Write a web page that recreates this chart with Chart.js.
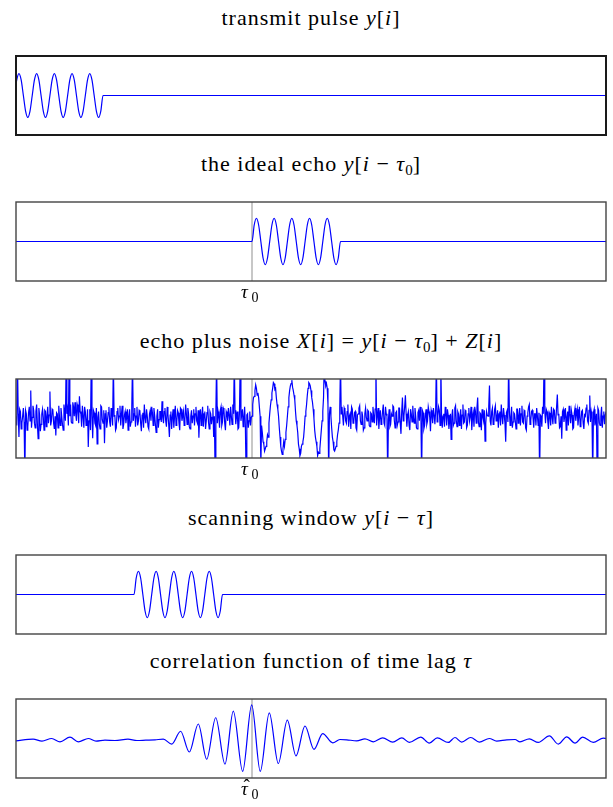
<!DOCTYPE html>
<html>
<head>
<meta charset="utf-8">
<script src="https://cdn.jsdelivr.net/npm/chart.js@4.4.1/dist/chart.umd.min.js"></script>
<style>
  body { margin: 0; background: #fff; width: 613px; height: 807px; position: relative; overflow: hidden; font-family: "Liberation Serif", "DejaVu Serif", serif; }
  .ttl { position: absolute; left: 16px; width: 590px; text-align: center; font-size: 22px; line-height: 22px; letter-spacing: 1px; color: #000; white-space: nowrap; }
  .ttl sub { font-size: 15px; vertical-align: -4px; line-height: 0; letter-spacing: 0; }
  canvas { position: absolute; left: 0; }
</style>
</head>
<body>
<div class="ttl" style="top:7px">transmit pulse <i>y</i>[<i>i</i>]</div>
<div class="ttl" style="top:153px">the ideal echo <i>y</i>[<i>i</i> − <i>τ</i><sub>0</sub>]</div>
<div class="ttl" style="top:330px;left:26px">echo plus noise <i>X</i>[<i>i</i>] = <i>y</i>[<i>i</i> − <i>τ</i><sub>0</sub>] + <i>Z</i>[<i>i</i>]</div>
<div class="ttl" style="top:507px">scanning window <i>y</i>[<i>i</i> − <i>τ</i>]</div>
<div class="ttl" style="top:650px">correlation function of time lag <i>τ</i></div>

<canvas id="c1" width="613" height="87" style="top:51.5px"></canvas>
<canvas id="c2" width="613" height="117" style="top:198px"></canvas>
<canvas id="c3" width="613" height="117" style="top:374.5px"></canvas>
<canvas id="c4" width="613" height="87" style="top:551px"></canvas>
<canvas id="c5" width="613" height="117" style="top:695px"></canvas>

<script>
// sample axis: 1000 samples across every box
const nSamples = 1000;
const tau0 = 400;          // true echo delay
const tauScan = 200;       // where the scanning window sits
const txStart = -2.5;      // transmit pulse, slightly cut at the left edge

// one pulse: 5 cycles, values every 3.75 samples (period 30)
const pulseStep = 3.75;
const pulseY = [0, 0.71, 1, 0.71, 0, -0.71, -1, -0.71,
                0, 0.71, 1, 0.71, 0, -0.71, -1, -0.71,
                0, 0.71, 1, 0.71, 0, -0.71, -1, -0.71,
                0, 0.71, 1, 0.71, 0, -0.71, -1, -0.71,
                0, 0.71, 1, 0.71, 0, -0.71, -1, -0.71,
                0];

// received signal X[i], one value every 1.25 samples
const noiseStep = 1.25;
const noisyY = [
  0.1, -0.3, 2.5, 0.2, -0.8, 0.4, 0.3, -0.45, -0.2, 0.1, 0.45, -0.15, -2.5, 0.35, 0.2, -0.5, -0.35, 0.25, 0.5, -0.1,
  1.2, -0.4, 0.05, 0.55, 0.35, -0.2, -0.4, 0.3, 0.6, -0.25, -0.87, 0.45, 0.15, -0.55, -0.25, 0.2, 0.4, 0.05, -0.5, 0.35,
  0.3, -0.35, 0.1, 0.5, -0.2, 0.15, 1.16, -0.3, -0.1, 0.4, 0.35, -0.2, -0.45, 0.1, -0.73, 0.25, 0.2, -0.4, 0.55, 0.05,
  -0.3, 0.45, 0.1, -0.25, -0.5, 0.6, 0.3, -0.1, 2.5, 0.2, 0.4, -0.3, 2.5, 0.1, 0.6, -0.15, -0.2, 0.7, 0.5, 0.1,
  0.7, 0.2, -0.1, 0.6, 0.45, -0.2, 0.96, 0.3, 0.2, -0.35, 0.55, 0.1, -0.4, 0.5, 0.3, -0.3, -0.15, 0.4, -1.23, -0.1,
  0.4, -0.5, 2.5, 0.15, -0.85, 0.35, 0.25, -0.2, -0.3, 0.45, -1.09, 0.05, 0.3, -0.25, -0.45, 0.55, 0.5, -0.05, -0.2, 0.35,
  -1.06, 0.2, 0.35, -0.4, -0.1, 0.25, 0.5, -0.15, -0.35, 0.45, 0.2, -0.3, 2.5, 0.1, 0.15, -0.5, -0.4, 0.3, 0.45, -0.05,
  0.1, 0.55, -0.3, 0.2, 0.55, -0.45, -0.25, 0.15, 0.3, -0.2, 0.05, 0.4, -0.5, 0.1, 0.4, -0.35, -0.15, 0.5, 2.5, -0.1,
  0.2, 0.45, -0.35, 0.1, 0.5, -0.3, -0.1, 0.35, 0.3, -0.2, -0.55, 0.15, 0.25, -0.4, 0.6, 0.05, -0.2, 0.4, 0.1, -0.35,
  -0.45, 0.2, 0.35, -0.1, 0.5, 0.25, -0.3, 0.45, 0.15, -0.25, -0.6, 0.1, 0.4, -0.4, -0.05, 0.3, 0.3, -0.15, 0.74, 0.05,
  -0.2, 0.3, 0.45, -0.1, -0.35, 0.5, 0.2, -0.25, -0.8, 0.15, 0.3, -0.45, 0.05, 0.4, -0.4, 0.1, 0.55, -0.3, -0.15, 0.35,
  0.25, -0.2, -0.5, 0.45, 0.4, -0.1, 0.1, 0.3, -0.3, -0.05, 0.6, 0.2, -0.25, 0.45, 0.2, -0.35, -0.45, 0.1, 0.35, -0.2,
  0.1, 0.4, -0.3, 0.2, 0.5, -0.1, -0.2, 0.35, -0.83, 0.05, 0.4, -0.3, 0.15, 0.5, -0.35, 0.2, 0.3, -0.45, -0.1, 0.25,
  0.55, -0.15, -0.45, 0.3, 0.2, -0.25, 0.05, 0.45, -0.8, 0.1, -2.5, 0.3, 2.5, -0.2, 0.3, 0.1, -0.4, 0.35, 0.5, -0.3,
  -0.15, 0.45, 0.35, -0.2, -0.5, 0.3, 0.2, -0.1, 0.45, 0.15, -0.3, 0.5, 0.1, -0.25, 0.6, 0.2, 2.5, 0.35, -0.25, 0.1,
  0.3, -0.45, -0.4, 0.25, 2.5, -0.1, 0.15, 0.4, -0.35, 0.05, 0.5, -0.3, -2.5, 0.15, 0.2, -0.4, -0.1, 0.3, -0.3, 0.05,
  // echo arrives at sample 400
  0.1, 0.6, 0.9, 0.95, 1.2, 1.45, 1.3, 1.0, 1.1, 0.9, 0.5, 0.1, -2.0, -0.3, -0.6, -1.0, -1.1, -1.4, -1.3, -1.2, -1.0, -0.7, -0.8, -0.2,
  0.2, 0.55, 0.8, 1.1, 1.3, 1.55, 1.5, 1.25, 1.3, 0.9, 0.6, 0.4, 0.1, -0.4, -0.8, -1.2, -1.4, -1.55, -1.3, -1.0, -1.2, -0.9, -0.6, -0.3,
  0.1, 0.5, 0.9, 1.2, 1.4, 1.5, 1.65, 1.35, 1.2, 1.0, 0.8, 0.3, -0.1, -0.3, -0.6, -1.1, -1.3, -1.6, -1.5, -1.2, -1.1, -1.0, -0.8, -0.4,
  0.1, 0.3, 0.6, 1.0, 1.3, 1.55, 1.5, 1.4, 1.2, 0.9, 0.7, 0.4, 0.0, -0.5, -0.8, -1.0, -1.2, -1.6, -1.45, -1.5, -1.3, -0.9, -0.5, -0.1,
  0.3, 0.9, 2.5, 1.6, 1.4, 1.5, 1.3, 0.6, -2.5, 0.2, 0.5, 0.1, -0.4, -0.8, -1.0, -1.35, -1.4, -1.3, -1.2, -1.0, -0.7, -0.5, -0.2, 0.4,
  2.5, 0.2,
  // back to noise only
  0.5, 0.1, -0.3, 0.45, 0.35, -0.1, -0.2, 0.3, 0.6, -0.35, 0.1, 0.2, -0.45, 0.5, 0.4, -0.2, -0.15, 0.25, 0.3, -0.4,
  -0.5, 0.15, 0.2, 0.45, 0.55, -0.1, -0.25, 0.3, 0.1, -0.5, -0.4, 0.2, 0.45, 0.05, -0.1, 0.35, 0.3, -0.3,
  -0.35, 0.25, 0.2, -0.15, 0.5, 0.1, -0.2, 0.4, 2.5, -0.3, 0.15, 0.45, -0.45, 0.05, 0.35, -0.25, -0.1, 0.3, 0.6, -0.2,
  -0.3, 0.5, 0.2, 0.1, -2.5, -0.05, 0.4, -0.35, -0.25, 0.2, 0.1, 0.55, 0.5, -0.1, -0.4, 0.25, 0.3, -0.3, -0.15, 0.45,
  0.45, -0.2, -0.66, 0.3, 0.9, -0.1, 0.1, 0.5, 1.0, 0.2, -0.35, 0.15, 0.3, -0.3, -0.5, 0.4, 0.2, -0.15, 0.55, 0.05,
  -0.2, 0.45, 0.1, -0.4, -0.45, 0.25, 0.35, -0.1, 0.5, 0.2, -2.5, 0.35, 0.25, -0.45, -0.3, 0.1, 0.4, -0.25, -0.1, 0.5,
  0.3, 0.05, -0.55, 0.35, 0.2, -0.2, 0.45, 0.15, -0.25, 0.3, 2.5, -0.15, 0.1, 0.5, 0.35, -0.3, 2.5, 0.2, -0.4, 0.1,
  0.2, -0.35, 0.5, 0.25, -0.3, 0.4, 0.15, -0.45, -0.1, 0.2, -0.9, 0.1, 0.4, -0.3, -0.2, 0.45, 0.55, -0.1, -0.35, 0.3,
  0.2, -0.3, 0.05, 0.4, -0.45, 0.15, 0.6, -0.2, -0.15, 0.35, 0.3, -0.4, -0.3, 0.2, 0.45, -0.1, 0.1, 0.5, -0.5, 0.05,
  0.25, -0.35, 0.5, 0.3, -0.2, 0.45, 0.9, -0.15, -0.35, 0.25, 0.2, -0.5, 0.4, 0.1, -0.1, 0.35, -0.97, -0.2, 0.3, 0.15,
  0.1, 0.5, 1.42, -0.1, -0.3, 0.3, 0.45, -0.25, -0.2, 0.4, 0.55, -0.1, 0.05, 0.35, -0.4, 0.2, 0.3, -0.3, 0.6, 0.1,
  -0.25, 0.45, 0.15, -0.2, -1.0, 0.25, 0.35, -0.15, 2.5, 0.3, -0.3, 0.05, 0.5, -0.4, -0.15, 0.25, 0.2, -0.1, -0.45, 0.4,
  0.4, -0.2, 0.1, 0.45, -0.3, 0.2, 0.55, -0.15, -0.2, 0.35, 0.3, -0.4, -0.5, 0.1, 0.25, 0.5, 0.6, -0.25, -0.1, 0.3,
  0.35, 0.05, -0.4, 0.2, 0.2, -0.3, 0.45, 0.1, -0.3, 0.25, -2.5, 0.15, 0.1, -0.35, 0.5, 0.2, 2.5, 0.3, -0.2, 0.4,
  0.3, -0.1, -0.45, 0.25, 0.15, -0.3, 0.5, 0.1, -0.25, 0.4, 0.35, -0.2, -0.1, 0.5, 1.03, 0.15, 0.2, -0.4, -0.35, 0.1,
  -0.87, 0.3, 0.4, -0.15, 0.1, 0.45, -0.5, 0.05, 0.3, -0.3, 0.55, 0.2, -0.2, 0.35, 0.15, -0.45, -0.4, 0.25, 0.45, -0.1,
  0.2, 0.4, -0.3, 0.1, 0.5, -0.35, -0.15, 0.3, 0.35, -0.2, -0.45, 0.15, 0.1, 0.45, 0.6, -0.1, -0.2, 0.35, 0.99, -0.15,
  0.3, 0.1, -2.5, 0.25, 0.4, -0.3, -0.1, 0.2, -2.5, 0.45, 0.35, -0.2, -0.3, 0.1, 0.5, -0.4, 0.1, 0.3, -0.25, 0.15,
  0.3
];

// correlation vs lag: turning points
const corrX = [0, 29, 44, 60.5, 74.6, 91.5, 105.6, 122.5, 135.6, 150.8, 167.8, 189.8, 205, 220, 235.6, 249.7,
  263.9, 279, 293.7, 309, 323.2, 338.5, 354.2, 368.3, 384.2, 399.5, 414, 429.3, 444.6, 459.8, 474.6, 489.8, 505,
  519.8, 536.8, 549, 560.5, 577.5, 591.5, 605.6, 621.5, 638.5, 654, 666.6, 686, 700.5, 714, 732.7, 744, 755.4,
  770.7, 785.3, 802.2, 814.7, 831.7, 845.8, 854.2, 870, 885.3, 904, 919.2, 933.4, 947.5, 960.5, 978.5, 995.4, 1000];
const corrY = [-0.02, 0.03, -0.03, 0.05, -0.05, 0.09, -0.05, 0.05, -0.03, 0, -0.01, 0.03, -0.01, 0, 0.01, 0.03,
  -0.12, 0.27, -0.36, 0.49, -0.58, 0.68, -0.73, 0.88, -0.95, 1.07, -0.95, 0.83, -0.71, 0.61, -0.48, 0.43, -0.28,
  0.20, -0.08, 0.02, 0.01, -0.02, 0.04, -0.05, 0.07, -0.06, 0.07, -0.07, 0.09, -0.09, 0.07, -0.07, 0.08, -0.06,
  0.08, -0.06, 0.05, -0.03, 0.01, 0.02, -0.05, 0.04, -0.07, 0.13, -0.12, 0.10, -0.09, 0.09, -0.07, 0.06, 0.05];

function pulseAt(start) {
  const pts = [];
  if (start > 0) pts.push({ x: 0, y: 0 });
  pulseY.forEach((v, k) => pts.push({ x: start + k * pulseStep, y: v }));
  pts.push({ x: nSamples, y: 0 });
  return pts;
}

const deco = {
  id: 'deco',
  beforeDatasetsDraw(chart, args, o) {
    if (o.mark == null) return;
    const { ctx, chartArea: a } = chart;
    const x = chart.scales.x.getPixelForValue(o.mark);
    ctx.save();
    ctx.strokeStyle = '#b4b4b4';
    ctx.lineWidth = 1.5;
    ctx.beginPath();
    ctx.moveTo(x, a.top);
    ctx.lineTo(x, a.bottom);
    ctx.stroke();
    ctx.restore();
  },
  afterDraw(chart, args, o) {
    const { ctx, chartArea: a } = chart;
    ctx.save();
    ctx.strokeStyle = o.frameColor || '#444';
    ctx.lineWidth = o.frameWidth || 1.4;
    ctx.strokeRect(a.left, a.top, a.right - a.left, a.bottom - a.top);
    if (o.label) {
      // tick label under the marker: italic tau, roman subscript 0
      const x = chart.scales.x.getPixelForValue(o.mark);
      const y = a.bottom + 17;
      ctx.fillStyle = '#000';
      ctx.textBaseline = 'alphabetic';
      ctx.font = 'italic 19px "Liberation Serif"';
      ctx.fillText('τ', x - 11, y);
      if (o.hat) {
        ctx.font = '19px "Liberation Serif"';
        ctx.fillText('ˆ', x - 8.5, y - 3);
      }
      ctx.font = '14px "Liberation Serif"';
      ctx.fillText('0', x - 0.5, y + 4);
    }
    ctx.restore();
  }
};

function panel(id, data, yMin, yMax, opts, extra) {
  const bottomPad = opts.label ? 34 : 4;
  return new Chart(document.getElementById(id), {
    type: 'line',
    data: {
      datasets: [Object.assign({
        data: data,
        borderColor: '#0000ff',
        borderWidth: 1.2,
        pointRadius: 0,
        fill: false,
        cubicInterpolationMode: 'monotone'
      }, extra || {})]
    },
    options: {
      responsive: false,
      animation: false,
      events: [],
      layout: { padding: { left: 16, right: 7, top: 4, bottom: bottomPad } },
      scales: {
        x: { type: 'linear', min: 0, max: nSamples, display: false },
        y: { min: yMin, max: yMax, display: false }
      },
      plugins: { legend: { display: false }, tooltip: { enabled: false }, deco: opts }
    },
    plugins: [deco]
  });
}

panel('c1', pulseAt(txStart), -1.8, 1.8, { frameColor: '#1a1a1a', frameWidth: 2 });
panel('c2', pulseAt(tau0), -1.7, 1.7, { mark: tau0, label: true });
panel('c3', noisyY.map((v, i) => ({ x: i * noiseStep, y: v })), -1.7, 1.7,
  { mark: tau0, label: true }, { cubicInterpolationMode: 'default', tension: 0, borderWidth: 1.2 });
panel('c4', pulseAt(tauScan), -1.7, 1.7, {});
panel('c5', corrX.map((x, i) => ({ x: x, y: corrY[i] })), -1.15, 1.25,
  { mark: tau0, label: true, hat: true });
</script>
</body>
</html>
